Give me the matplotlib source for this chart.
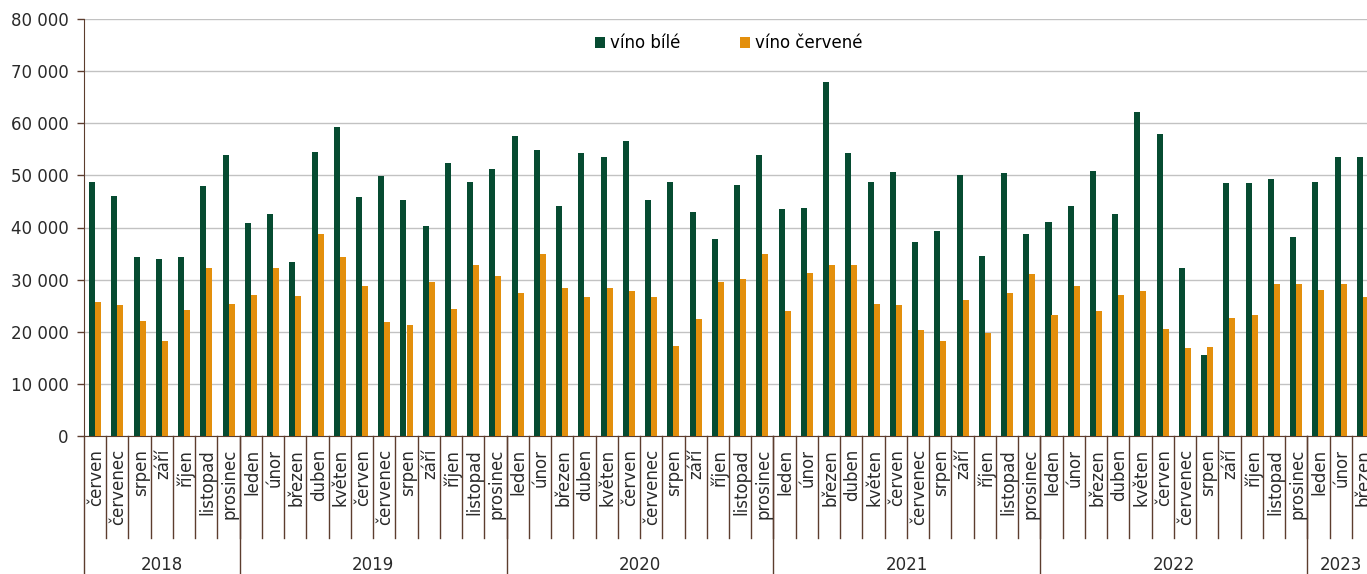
import matplotlib.pyplot as plt
import numpy as np
from matplotlib.ticker import FuncFormatter
import matplotlib.transforms as mtransforms

plt.rcParams['font.family'] = ['DejaVu Sans']

years = ['2018', '2019', '2020', '2021', '2022', '2023']
year_months = [
    ['červen', 'červenec', 'srpen', 'září', 'říjen', 'listopad', 'prosinec'],
    ['leden', 'únor', 'březen', 'duben', 'květen', 'červen', 'červenec', 'srpen', 'září', 'říjen', 'listopad', 'prosinec'],
    ['leden', 'únor', 'březen', 'duben', 'květen', 'červen', 'červenec', 'srpen', 'září', 'říjen', 'listopad', 'prosinec'],
    ['leden', 'únor', 'březen', 'duben', 'květen', 'červen', 'červenec', 'srpen', 'září', 'říjen', 'listopad', 'prosinec'],
    ['leden', 'únor', 'březen', 'duben', 'květen', 'červen', 'červenec', 'srpen', 'září', 'říjen', 'listopad', 'prosinec'],
    ['leden', 'únor', 'březen'],
]

vino_bile = [
    48800, 46100, 34300, 34000, 34300, 47900, 53900,
    40800, 42600, 33400, 54400, 59200, 45900, 49800, 45300, 40200, 52400, 48800, 51200,
    57500, 54800, 44100, 54200, 53600, 56600, 45300, 48800, 42900, 37800, 48200, 53900,
    43500, 43800, 67900, 54200, 48800, 50600, 37200, 39300, 50000, 34500, 50400, 38700,
    41100, 44100, 50900, 42600, 62200, 58000, 32200, 15500, 48600, 48600, 49400, 38100,
    48800, 53600, 53600,
]
vino_cervene = [
    25700, 25100, 22100, 18200, 24200, 32200, 25400,
    27100, 32200, 26900, 38700, 34300, 28700, 21800, 21200, 29600, 24400, 32800, 30700,
    27400, 34900, 28300, 26600, 28300, 27800, 26600, 17300, 22400, 29500, 30100, 34900,
    23900, 31300, 32800, 32800, 25300, 25100, 20300, 18200, 26000, 19800, 27400, 31000,
    23300, 28700, 23900, 27100, 27800, 20600, 16800, 17000, 22600, 23300, 29200, 29200,
    28000, 29200, 26600,
]

months = [m for ms in year_months for m in ms]
n = len(months)
x = np.arange(n)

green = '#064b31'
orange = '#e38f0c'
brown = '#5c3d2e'
txt = '#2a2a2a'

fig = plt.figure(figsize=(13.67, 5.74), dpi=100)
W, H = 1367, 574
left_px, right_px, top_px, bottom_px = 84, 1374, 19, 436
ax = fig.add_axes([left_px / W, 1 - bottom_px / H, (right_px - left_px) / W, (bottom_px - top_px) / H])

bw = 0.27
ax.bar(x - bw / 2, vino_bile, bw, color=green, label='víno bílé', zorder=3)
ax.bar(x + bw / 2, vino_cervene, bw, color=orange, label='víno červené', zorder=3)

ax.set_xlim(-0.5, n - 0.5)
ax.set_ylim(0, 80000)
ax.set_yticks(np.arange(0, 80001, 10000))
ax.yaxis.set_major_formatter(FuncFormatter(lambda v, p: f'{int(v):,}'.replace(',', ' ')))
ax.tick_params(axis='y', labelsize=12, colors=brown, labelcolor=txt, length=5, width=1, pad=6)
ax.set_xticks([])
ax.grid(axis='y', color='#c2c2c2', linewidth=1.0, zorder=0)
ax.spines['top'].set_visible(False)
ax.spines['right'].set_visible(False)
ax.spines['left'].set_color(brown)
ax.spines['bottom'].set_color(brown)

trans = mtransforms.blended_transform_factory(ax.transData, ax.transAxes)
ax_h = bottom_px - top_px
y_lab = -(449 - bottom_px) / ax_h
y_sep = -(538 - bottom_px) / ax_h
y_bot = -(H - bottom_px) / ax_h
y_year = -(565 - bottom_px) / ax_h

for i, m in enumerate(months):
    ax.text(i + 0.05, y_lab, m, transform=trans, rotation=90, ha='center', va='top',
            fontsize=12, color=txt)
    ax.plot([i + 0.5, i + 0.5], [0, y_sep], transform=trans, color=brown, lw=1, clip_on=False)

start = 0
for yr, ms in zip(years, year_months):
    ax.plot([start - 0.5, start - 0.5], [0, y_bot], transform=trans, color=brown, lw=1, clip_on=False)
    mid = start + (len(ms) - 1) / 2
    ax.text(mid, y_year, yr, transform=trans, ha='center', va='center', fontsize=12, color=txt)
    start += len(ms)

ax.legend(loc='center', bbox_to_anchor=(0.5, 0.942), ncol=2, frameon=False, fontsize=12,
          handlelength=0.6, handleheight=0.6, handletextpad=0.3, columnspacing=3.6)

fig.savefig('out.png', dpi=100)
